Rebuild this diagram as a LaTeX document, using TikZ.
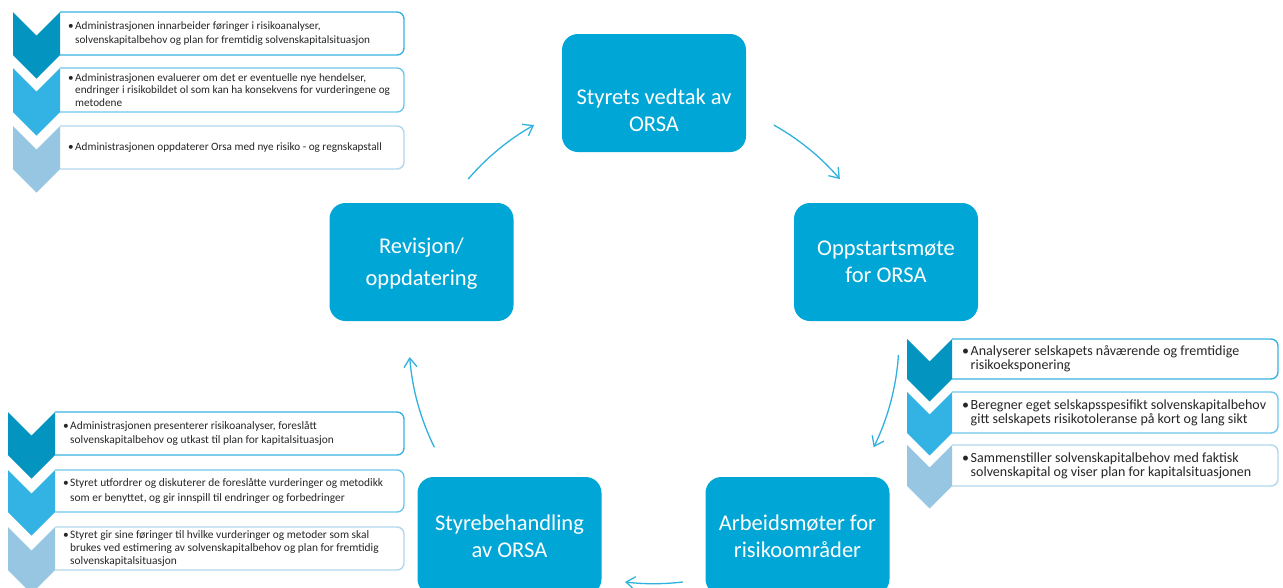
\documentclass[tikz,border=0pt]{standalone}
\usepackage{fontspec}
\setmainfont{Carlito}
\usetikzlibrary{arrows.meta,calc}
\definecolor{boxblue}{RGB}{0,166,214}
\definecolor{chA}{RGB}{4,148,192}
\definecolor{chB}{RGB}{51,178,228}
\definecolor{chC}{RGB}{150,198,226}
\definecolor{bdA}{RGB}{55,178,226}
\definecolor{bdB}{RGB}{110,198,236}
\definecolor{bdC}{RGB}{178,216,236}
\definecolor{arrblue}{RGB}{48,178,224}
\definecolor{txtgray}{RGB}{38,38,38}
\newcommand\outl[2]{\draw[#2, line width=1.4pt] (#1.north west) -- ([xshift=-7pt]#1.north east) arc[start angle=90,end angle=0,radius=7pt] -- ([yshift=7pt]#1.south east) arc[start angle=0,end angle=-90,radius=7pt] -- (#1.south west);}
\newcommand\chev[5]{\fill[#5] (#1,#3) -- ({(#1+#2)/2},{#3-(#2-#1)/2}) -- (#2,#3) -- (#2,#4) -- ({(#1+#2)/2},{#4-(#2-#1)/2}) -- (#1,#4) -- cycle;}
\newcommand\bl{\makebox[7pt][l]{\textbullet}}
\newcommand\ind{\hspace*{7pt}}
\newcommand\blr{\makebox[8.5pt][l]{\textbullet}}
\newcommand\indr{\hspace*{8.5pt}}
\tikzset{
  big/.style={rectangle, rounded corners=16pt, fill=boxblue, minimum width=184pt, minimum height=118pt, text=white, align=center, font=\fontsize{22.5}{27}\selectfont, inner sep=0pt},
  bigtxt/.style={text=white, align=center, font=\fontsize{22.5}{27}\selectfont, inner sep=0pt},
  sbox/.style={rectangle, inner sep=0pt, outer sep=0pt, anchor=north west},
  stxt/.style={anchor=west, align=left, inner sep=0pt, text=txtgray},
  smalltl/.style={stxt, font=\fontsize{11.2}{13.5}\selectfont},
  smallbl/.style={stxt, font=\fontsize{11.4}{13.5}\selectfont},
  smallr/.style={stxt, font=\fontsize{14}{14.3}\selectfont},
  arr/.style={draw=arrblue, line width=1.3pt, -{Straight Barb[length=9pt,width=13pt]}}
}
\begin{document}
\begin{tikzpicture}[x=1pt,y=1pt]
\useasboundingbox (0,0) rectangle (1283,-587);
\clip (0,0) rectangle (1283,-587);
\fill[white] (0,0) rectangle (1283,-587);

% main cycle boxes
\node[big] (n1) at (654,-93) {};
\node[bigtxt] (n1t) at ([yshift=-17pt]n1.center) {Styrets vedtak av\\ORSA};
\node[big] (n2) at (886,-262) {Oppstartsmøte\\for ORSA};
\node[big] (n3) at (797.5,-536) {Arbeidsmøter for\\risikoområder};
\node[big] (n4) at (509.5,-536) {Styrebehandling\\av ORSA};
\node[big] (n5) at (421.5,-262) {};
\node[bigtxt] (n5t) at ([yshift=-2pt]n5.center) {Revisjon/\\[5pt]oppdatering};

% cycle arrows
\coordinate (O) at (654,-338.7);
\coordinate (a1) at ($(O)+(139.35:245)$);
\coordinate (a2) at ($(O)+(60.7:245)$);
\coordinate (a3) at ($(O)+(-3.8:245)$);
\coordinate (a4) at ($(O)+(-83.2:245)$);
\coordinate (a5) at ($(O)+(206.3:245)$);
\draw[arr] (a1) arc[start angle=139.35, end angle=119.3, radius=245];
\draw[arr] (a2) arc[start angle=60.7, end angle=40.65, radius=245];
\draw[arr] (a3) arc[start angle=-3.8, end angle=-26.3, radius=245];
\draw[arr] (a4) arc[start angle=-83.2, end angle=-96.8, radius=245];
\draw[arr] (a5) arc[start angle=206.3, end angle=184.3, radius=245];

% top-left panel
\node[sbox, minimum width=344pt, minimum height=43pt] (tl1) at (60,-12) {};
\node[sbox, minimum width=344pt, minimum height=44pt] (tl2) at (60,-68) {};
\node[sbox, minimum width=344pt, minimum height=43pt] (tl3) at (60,-126) {};
\outl{tl1}{bdA}\outl{tl2}{bdB}\outl{tl3}{bdC}
\chev{13}{60}{-12}{-55}{chA}
\chev{13}{60}{-68}{-112}{chB}
\chev{13}{60}{-126}{-169}{chC}
\node[smalltl] (tl1t) at ([xshift=8pt]tl1.west) {\bl Administrasjonen innarbeider føringer i risikoanalyser,\\\ind solvenskapitalbehov og plan for fremtidig solvenskapitalsituasjon};
\node[smalltl, font=\fontsize{11.2}{12.8}\selectfont] (tl2t) at ([xshift=8pt]tl2.west) {\bl Administrasjonen evaluerer om det er eventuelle nye hendelser,\\\ind endringer i risikobildet ol som kan ha konsekvens for vurderingene og\\\ind metodene};
\node[smalltl] (tl3t) at ([xshift=8pt]tl3.west) {\bl Administrasjonen oppdaterer Orsa med nye risiko - og regnskapstall};

% right panel
\node[sbox, minimum width=326pt, minimum height=40pt] (r1) at (952,-339) {};
\node[sbox, minimum width=326pt, minimum height=41pt] (r2) at (952,-392) {};
\node[sbox, minimum width=326pt, minimum height=41pt] (r3) at (952,-445) {};
\outl{r1}{bdA}\outl{r2}{bdB}\outl{r3}{bdC}
\chev{907}{952}{-339}{-379}{chA}
\chev{907}{952}{-392}{-433}{chB}
\chev{907}{952}{-445}{-486}{chC}
\node[smallr] (r1t) at ([xshift=10pt]r1.west) {\blr Analyserer selskapets nåværende og fremtidige\\\indr risikoeksponering};
\node[smallr] (r2t) at ([xshift=10pt]r2.west) {\blr Beregner eget selskapsspesifikt solvenskapitalbehov\\\indr gitt selskapets risikotoleranse på kort og lang sikt};
\node[smallr] (r3t) at ([xshift=10pt]r3.west) {\blr Sammenstiller solvenskapitalbehov med faktisk\\\indr solvenskapital og viser plan for kapitalsituasjonen};

% bottom-left panel
\node[sbox, minimum width=349pt, minimum height=43pt] (bl1) at (55,-412) {};
\node[sbox, minimum width=349pt, minimum height=42pt] (bl2) at (55,-470) {};
\node[sbox, minimum width=349pt, minimum height=43pt] (bl3) at (55,-527) {};
\outl{bl1}{bdA}\outl{bl2}{bdB}\outl{bl3}{bdC}
\chev{8}{55}{-412}{-455}{chA}
\chev{8}{55}{-470}{-512}{chB}
\chev{8}{55}{-527}{-570}{chC}
\node[smallbl, font=\fontsize{11.4}{14.5}\selectfont] (bl1t) at ([xshift=8pt]bl1.west) {\bl Administrasjonen presenterer risikoanalyser, foreslått\\\ind solvenskapitalbehov og utkast til plan for kapitalsituasjon};
\node[smallbl, font=\fontsize{11.4}{14.5}\selectfont] (bl2t) at ([xshift=8pt]bl2.west) {\bl Styret utfordrer og diskuterer de foreslåtte vurderinger og metodikk\\\ind som er benyttet, og gir innspill til endringer og forbedringer};
\node[smallbl, font=\fontsize{11.4}{12.8}\selectfont] (bl3t) at ([xshift=8pt]bl3.west) {\bl Styret gir sine føringer til hvilke vurderinger og metoder som skal\\\ind brukes ved estimering av solvenskapitalbehov og plan for fremtidig\\\ind solvenskapitalsituasjon};
\end{tikzpicture}
\end{document}
